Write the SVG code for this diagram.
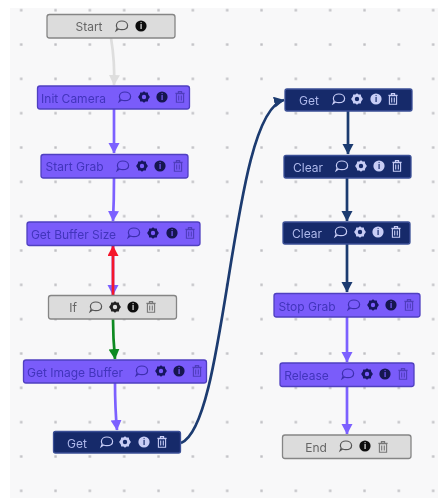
<svg xmlns="http://www.w3.org/2000/svg" width="438" height="498" viewBox="0 0 438 498">
<style>
text{font-family:Inter,"Liberation Sans",sans-serif;font-size:12px;text-anchor:middle;dominant-baseline:central}
.n{stroke-width:1.3}
.p .n{fill:#7a5cfa;stroke:#4f3fc0}.p text{fill:#4234bc}
.d .n{fill:#152a6b;stroke:#3a4f96}.d text{fill:#aeb8ea}
.g .n{fill:#dcdcdc;stroke:#858585}.g text{fill:#666}
.p .c{color:#3d2fae}.p .s{color:#17165e}.p .i{color:#12134f}.p .t{color:#4f3cbc}
.d .c,.d .s,.d .i,.d .t{color:#c8cdf5}
.g .c{color:#555}.g .s{color:#222}.g .i{color:#111}.g .t{color:#777}
.e{fill:none;stroke-width:2.7}
.k{font-size:8px;font-weight:700}
.p .k{fill:#7a5cfa}.d .k{fill:#152a6b}.g .k{fill:#ddd}
</style>
<defs>
<filter id="b" x="-5%" y="-5%" width="110%" height="110%"><feGaussianBlur stdDeviation="0.75"/></filter>
<marker id="ap" markerUnits="userSpaceOnUse" markerWidth="13" markerHeight="12" refX="10" refY="5.500" orient="auto"><path d="M0,0L10.500,5.500L0,11z" fill="#7b61ff"/></marker>
<marker id="al" markerUnits="userSpaceOnUse" markerWidth="13" markerHeight="12" refX="10" refY="5.500" orient="auto"><path d="M0,0L10.500,5.500L0,11z" fill="#dedede"/></marker>
<marker id="an" markerUnits="userSpaceOnUse" markerWidth="13" markerHeight="12" refX="10" refY="5.500" orient="auto"><path d="M0,0L10.500,5.500L0,11z" fill="#1b3a70"/></marker>
<marker id="ar" markerUnits="userSpaceOnUse" markerWidth="13" markerHeight="12" refX="10" refY="5.500" orient="auto"><path d="M0,0L10.500,5.500L0,11z" fill="#f5142c"/></marker>
<marker id="ag" markerUnits="userSpaceOnUse" markerWidth="13" markerHeight="12" refX="10" refY="5.500" orient="auto"><path d="M0,0L10.500,5.500L0,11z" fill="#0f8a20"/></marker>
<g id="ic"><path d="M-5.600,-.5C-5.600,-3.400-3,-5-.2,-5C2.800,-5,5.600,-3.400,5.600,-.6C5.600,2.200,2.800,3.600,-.2,3.600C-1.500,3.600-2.600,3.400-3.500,2.900L-5.800,4.600L-4.800,2C-5.300,1.300-5.600,.4-5.600,-.5z" fill="none" stroke="currentColor" stroke-width="1.200"/></g>
<g id="is"><path fill-rule="evenodd" d="M0,-5.800L1.600,-4.400L3.800,-4.600L4.200,-2.500L5.900,0L4.200,2.500L3.800,4.600L1.600,4.400L0,5.800L-1.600,4.400L-3.800,4.600L-4.200,2.500L-5.900,0L-4.200,-2.500L-3.800,-4.600L-1.600,-4.400zM0,-2.200A2.200,2.200,0,1,0,0,2.200A2.200,2.200,0,1,0,0,-2.200z" fill="currentColor"/></g>
<g id="ii"><circle r="5.600" fill="currentColor"/></g>
<g id="it"><path d="M-3.600,-3.200H3.600V5.200H-3.600zM-4.600,-3.600H4.600M-1.600,-3.800V-5.400H1.600V-3.800M-1.300,-1.400V3.400M1.300,-1.400V3.400" fill="none" stroke="currentColor" stroke-width="1.100"/></g>
<pattern id="dots" patternUnits="userSpaceOnUse" x="4" y="-7" width="34.330" height="34.330"><rect x="16" y="16" width="2.400" height="2.400" fill="#bfbfc3"/></pattern>
</defs>
<g filter="url(#b)">
<rect x="10" y="8" width="430" height="492" fill="#f8f8f9"/>
<rect x="10" y="8" width="430" height="492" fill="url(#dots)"/>
<g id="connectors">
<path class="e" d="M111,38Q115,62 114,85" stroke="#dedede" marker-end="url(#al)"/>
<path class="e" d="M114,109V153" stroke="#7b61ff" marker-end="url(#ap)"/>
<path class="e" d="M114,178Q114,200 113,221" stroke="#7b61ff" marker-end="url(#ap)"/>
<path class="e" d="M113,246V295" stroke="#7b61ff" marker-end="url(#ap)"/>
<path class="e" d="M113,295V246" stroke="#f5142c" marker-end="url(#ar)"/>
<path class="e" d="M113,319Q113,338 115,359" stroke="#0f8a20" marker-end="url(#ag)"/>
<path class="e" d="M115,383Q115,408 117,430" stroke="#7b61ff" marker-end="url(#ap)"/>
<path class="e" d="M181,443C228,425 230,112 284,100" stroke="#1b3a70" marker-end="url(#an)"/>
<path class="e" d="M348,111V154" stroke="#1b3a70" marker-end="url(#an)"/>
<path class="e" d="M347,178V221" stroke="#1b3a70" marker-end="url(#an)"/>
<path class="e" d="M347,244V292" stroke="#1b3a70" marker-end="url(#an)"/>
<path class="e" d="M347,317V362" stroke="#7b61ff" marker-end="url(#ap)"/>
<path class="e" d="M347,386V434" stroke="#7b61ff" marker-end="url(#ap)"/>
</g>
<g id="n-start" class="g"><rect class="n" x="47" y="14.500" width="128" height="23.500" rx="2.500"/><text x="89" y="26">Start</text><use href="#ic" class="c" x="122" y="26"/><use href="#ii" class="i" x="141" y="26"/><text class="k" x="141" y="26">i</text></g>
<g id="n-init" class="p"><rect class="n" x="37.500" y="86" width="152" height="23" rx="2.500"/><text x="73.500" y="98">Init Camera</text><use href="#ic" class="c" x="125" y="97"/><use href="#is" class="s" x="144" y="97"/><use href="#ii" class="i" x="162" y="97"/><text class="k" x="162" y="97">i</text><use href="#it" class="t" x="180" y="97"/></g>
<g id="n-startgrab" class="p"><rect class="n" x="41" y="154.500" width="147" height="23.500" rx="2.500"/><text x="74.500" y="166.500">Start Grab</text><use href="#ic" class="c" x="123" y="166"/><use href="#is" class="s" x="142" y="166"/><use href="#ii" class="i" x="160" y="166"/><text class="k" x="160" y="166">i</text><use href="#it" class="t" x="178" y="166"/></g>
<g id="n-bufsize" class="p"><rect class="n" x="27" y="222" width="173" height="23.500" rx="2.500"/><text x="73.500" y="234">Get Buffer Size</text><use href="#ic" class="c" x="134" y="233"/><use href="#is" class="s" x="153" y="233"/><use href="#ii" class="i" x="172" y="233"/><text class="k" x="172" y="233">i</text><use href="#it" class="t" x="190" y="233"/></g>
<g id="n-if" class="g"><rect class="n" x="48.500" y="295.500" width="128" height="23.500" rx="2.500"/><text x="73" y="307">If</text><use href="#ic" class="c" x="96" y="307"/><use href="#is" class="s" x="115" y="307"/><use href="#ii" class="i" x="133" y="307"/><text class="k" x="133" y="307">i</text><use href="#it" class="t" x="151" y="307"/></g>
<g id="n-imgbuf" class="p"><rect class="n" x="23.500" y="360" width="183" height="23" rx="2.500"/><text x="75" y="372">Get Image Buffer</text><use href="#ic" class="c" x="142" y="371"/><use href="#is" class="s" x="161" y="371"/><use href="#ii" class="i" x="179" y="371"/><text class="k" x="179" y="371">i</text><use href="#it" class="t" x="197" y="371"/></g>
<g id="n-get1" class="d"><rect class="n" x="53.500" y="431.500" width="127" height="21.500" rx="2"/><text x="77" y="443">Get</text><use href="#ic" class="c" x="107" y="442"/><use href="#is" class="s" x="125" y="442"/><use href="#ii" class="i" x="144" y="442"/><text class="k" x="144" y="442">i</text><use href="#it" class="t" x="162" y="442"/></g>
<g id="n-get2" class="d"><rect class="n" x="285" y="89" width="127" height="22" rx="2"/><text x="309" y="100.500">Get</text><use href="#ic" class="c" x="339" y="99"/><use href="#is" class="s" x="357" y="99"/><use href="#ii" class="i" x="376" y="99"/><text class="k" x="376" y="99">i</text><use href="#it" class="t" x="393" y="99"/></g>
<g id="n-clear1" class="d"><rect class="n" x="284" y="155.500" width="127" height="22.500" rx="2"/><text x="308" y="167.500">Clear</text><use href="#ic" class="c" x="342" y="166"/><use href="#is" class="s" x="361" y="166"/><use href="#ii" class="i" x="379" y="166"/><text class="k" x="379" y="166">i</text><use href="#it" class="t" x="397" y="166"/></g>
<g id="n-clear2" class="d"><rect class="n" x="283" y="222" width="127" height="22" rx="2"/><text x="307" y="233.500">Clear</text><use href="#ic" class="c" x="341" y="232"/><use href="#is" class="s" x="360" y="232"/><use href="#ii" class="i" x="378" y="232"/><text class="k" x="378" y="232">i</text><use href="#it" class="t" x="396" y="232"/></g>
<g id="n-stopgrab" class="p"><rect class="n" x="274" y="293.500" width="146" height="23.500" rx="2.500"/><text x="307" y="306">Stop Grab</text><use href="#ic" class="c" x="354" y="305"/><use href="#is" class="s" x="373" y="305"/><use href="#ii" class="i" x="391" y="305"/><text class="k" x="391" y="305">i</text><use href="#it" class="t" x="409" y="305"/></g>
<g id="n-release" class="p"><rect class="n" x="280" y="363" width="134" height="23.500" rx="2.500"/><text x="306.500" y="375">Release</text><use href="#ic" class="c" x="348" y="374"/><use href="#is" class="s" x="367" y="374"/><use href="#ii" class="i" x="385" y="374"/><text class="k" x="385" y="374">i</text><use href="#it" class="t" x="403" y="374"/></g>
<g id="n-end" class="g"><rect class="n" x="282.500" y="435" width="128.500" height="23.500" rx="2.500"/><text x="316" y="447">End</text><use href="#ic" class="c" x="346" y="446"/><use href="#ii" class="i" x="365" y="446"/><text class="k" x="365" y="446">i</text><use href="#it" class="t" x="383" y="447"/></g>
</g>
</svg>
